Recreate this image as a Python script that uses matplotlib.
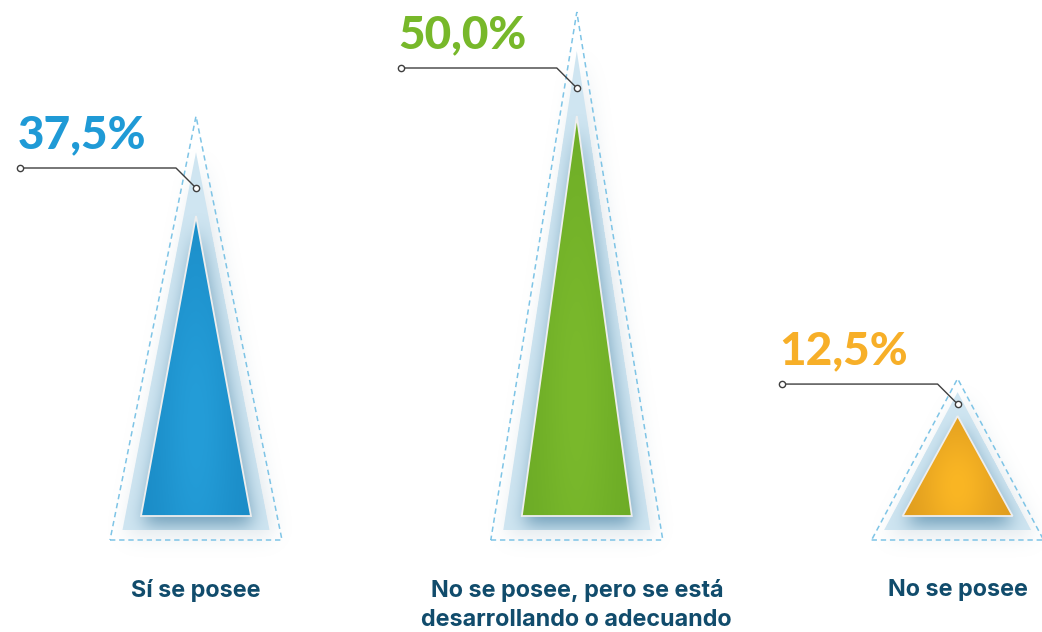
import matplotlib
matplotlib.use("Agg")
import matplotlib.pyplot as plt
import numpy as np
from matplotlib.patches import Polygon

categories = ["Sí se posee", "No se posee, pero se está\ndesarrollando o adecuando", "No se posee"]
values = [37.5, 50.0, 12.5]
value_labels = ["37,5%", "50,0%", "12,5%"]

label_colors = ["#1F9AD6", "#77B82A", "#F7AF28"]
edge_colors = ["#1A8BC6", "#6CAB26", "#DD9B1F"]
center_colors = ["#249DD8", "#7AB92C", "#FAB624"]
category_color = "#114C6C"

# one axis unit = 8 px in both directions, so offsets stay isotropic
PX = 8.0
W, H = 1042, 632
XLIM = (0, W / PX)
YLIM = (-14.5, H / PX - 14.5)

HALF = 55 / PX           # half base of the coloured triangle
GLOW_HALF, GLOW_BASE = 73.5 / PX, -14 / PX
DASH_HALF, DASH_BASE = 86 / PX, -24 / PX


def centre(i):
    return 24.5 + 47.6 * i


def rise(value, offset, cap):
    sin = HALF / np.hypot(HALF, value)
    return min(offset / sin, cap) / PX


def tri(cx, base, top, half):
    return [(cx - half, base), (cx + half, base), (cx, top)]


def tri_mask(X, Y, cx, base, top, half):
    frac = (top - Y) / (top - base)
    return ((Y >= base) & (Y <= top) & (np.abs(X - cx) <= half * frac)).astype(float)


def blur(a, sigma):
    r = int(3 * sigma)
    k = np.exp(-0.5 * (np.arange(-r, r + 1) / sigma) ** 2)
    k /= k.sum()
    a = np.apply_along_axis(lambda m: np.convolve(m, k, mode="same"), 0, a)
    return np.apply_along_axis(lambda m: np.convolve(m, k, mode="same"), 1, a)


def rgba(color, alpha):
    img = np.zeros(alpha.shape + (4,))
    img[..., :3] = matplotlib.colors.to_rgb(color)
    img[..., 3] = np.clip(alpha, 0, 1)
    return img


plt.rcParams["font.family"] = ["Lato", "DejaVu Sans"]
fig = plt.figure(figsize=(W / 100, H / 100), dpi=100)
ax = fig.add_axes([0, 0, 1, 1])
ax.set_xlim(*XLIM)
ax.set_ylim(*YLIM)
ax.axis("off")

xs = XLIM[0] + (np.arange(W) + 0.5) / PX
ys = YLIM[1] - (np.arange(H) + 0.5) / PX
X, Y = np.meshgrid(xs, ys)
extent = (XLIM[0], XLIM[1], YLIM[0], YLIM[1])

haze = np.zeros_like(X)
shadow = np.zeros_like(X)
for i, value in enumerate(values):
    cx = centre(i)
    glow_top = value + rise(value, 11.5, 65)
    glow = tri_mask(X, Y, cx, GLOW_BASE, glow_top, GLOW_HALF)
    haze += tri_mask(X - 4 / PX, Y + 6 / PX, cx, GLOW_BASE, glow_top, GLOW_HALF)
    inner = tri_mask(X - 2 / PX, Y + 9 / PX, cx, 0, value, HALF)
    shadow += blur(inner, 9) * glow

haze = blur(haze, 10)
ax.imshow(rgba("#8FAABB", 0.28 * haze), extent=extent, origin="upper", zorder=1, aspect="auto")

for i, value in enumerate(values):
    cx = centre(i)
    glow_top = value + rise(value, 11.5, 65)
    ax.add_patch(Polygon(tri(cx, GLOW_BASE, glow_top, GLOW_HALF), closed=True,
                         facecolor="#CFE5F1", edgecolor="none", zorder=2))

ax.imshow(rgba("#4F86A6", 0.75 * shadow), extent=extent, origin="upper", zorder=3, aspect="auto")

for i, value in enumerate(values):
    cx = centre(i)
    # coloured triangle with a soft lighter core
    u = np.clip((X - cx) / HALF, -3, 3)
    v = Y / value
    t = np.exp(-2.2 * u ** 2) * np.exp(-((v - 0.3) / 0.6) ** 2)
    c0 = np.array(matplotlib.colors.to_rgb(edge_colors[i]))
    c1 = np.array(matplotlib.colors.to_rgb(center_colors[i]))
    img = np.ones(X.shape + (4,))
    img[..., :3] = c0 + (c1 - c0) * t[..., None]
    patch = Polygon(tri(cx, 0, value, HALF), closed=True, facecolor="none",
                    edgecolor="#EEEEEE", linewidth=1.3, zorder=5)
    ax.add_patch(patch)
    im = ax.imshow(img, extent=extent, origin="upper", zorder=4, aspect="auto")
    im.set_clip_path(patch)

    dash_top = value + rise(value, 18, 104)
    ax.add_patch(Polygon(tri(cx, DASH_BASE, dash_top, DASH_HALF), closed=True,
                         facecolor="none", edgecolor="#7EC4E6", linewidth=1.1,
                         linestyle=(0, (3.5, 2.5)), zorder=5))

    # leader line from the value label down to the tip
    dot_y = value + min(0.5 * rise(value, 11.5, 65), 28 / PX)
    line_y = dot_y + 20 / PX
    x0, knee = cx - 176 / PX, cx - 20 / PX
    ax.plot([x0, knee, cx], [line_y, line_y, dot_y], color="#3F3F3F", linewidth=1.0, zorder=6)
    ax.plot([x0, cx], [line_y, dot_y], linestyle="none", marker="o", markersize=4.5,
            markerfacecolor="white", markeredgecolor="#3F3F3F", markeredgewidth=1.0, zorder=7)
    ax.text(x0 - 2 / PX, line_y + 20 / PX, value_labels[i], color=label_colors[i],
            fontsize=33, fontweight="black", ha="left", va="baseline", zorder=7)

    ax.text(cx, -7.85, categories[i], color=category_color, fontsize=16.8,
            fontweight="bold", family=["Inter", "DejaVu Sans"],
            ha="center", va="top", linespacing=1.45, zorder=7)

fig.savefig("out.png", dpi=100)
